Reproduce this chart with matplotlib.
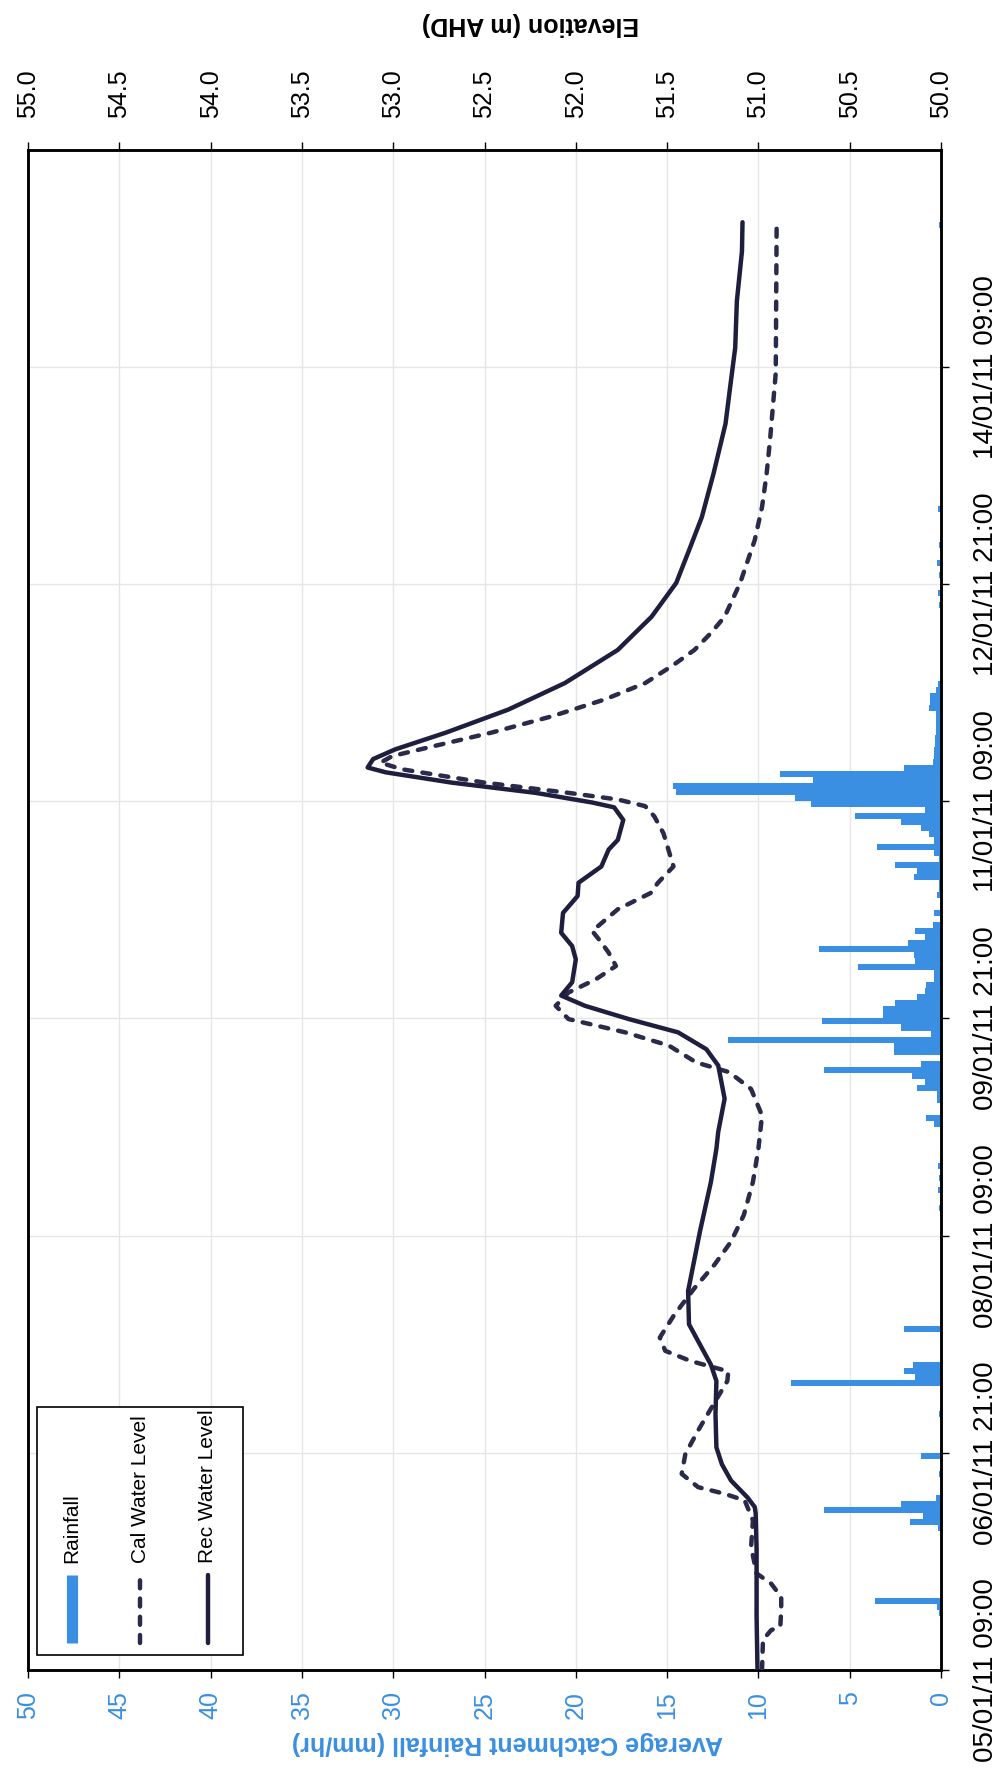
import matplotlib
matplotlib.use("Agg")
import matplotlib.pyplot as plt
from matplotlib.patches import Rectangle
from matplotlib.lines import Line2D

plt.rcParams["font.family"] = ["Liberation Sans", "DejaVu Sans"]

RAIN_BLUE = "#3a8fe2"
LINE_DARK = "#1e1e3e"
CAL_DASH = (0, (1.8, 2.3))

# hourly catchment rainfall (mm/hr), hours after 05/01/11 09:00
rain_hour = [9, 10, 11, 23, 24, 25, 26, 27, 28, 32, 35, 42, 47, 48, 49, 50, 56,
             76, 79, 81, 83, 90, 91, 94, 95, 96, 97, 98, 99, 100, 102, 103, 104,
             105, 106, 107, 108, 109, 110, 111, 112, 113, 114, 115, 116, 117, 118,
             119, 120, 121, 122, 123, 125, 128, 129, 130, 131, 132, 133, 134, 135,
             136, 137, 138, 139, 140, 141, 142, 143, 144, 145, 146, 147, 148, 149,
             150, 151, 152, 153, 154, 155, 156, 157, 158, 159, 160, 161, 162, 163,
             176, 178, 181, 183, 186, 192, 239]
rain_mm = [0.1, 0.22, 3.6, 0.18, 1.7, 1.0, 6.4, 2.2, 0.27, 0.1, 1.1, 0.1, 8.2, 1.4, 2.0, 1.55, 2.0,
           0.1, 0.15, 0.1, 0.15, 0.36, 0.8, 0.2, 0.2, 1.3, 0.9, 1.6, 6.4, 1.1, 2.6, 2.6, 11.65,
           0.55, 2.2, 6.5, 3.2, 3.2, 2.5, 1.3, 0.9, 0.8, 0.36, 0.36, 4.55, 1.45, 1.5,
           6.7, 1.8, 0.9, 1.45, 0.45, 0.36, 0.2, 0.1, 0.1, 1.5, 1.3, 2.5, 0.1, 0.36,
           3.5, 0.36, 0.64, 1.1, 2.2, 4.7, 0.9, 7.1, 8.0, 14.5, 14.7, 7.0, 8.8, 2.0,
           0.45, 0.4, 0.4, 0.33, 0.33, 0.27, 0.27, 0.27, 0.27, 0.64, 0.6, 0.6, 0.3, 0.15,
           0.1, 0.15, 0.1, 0.2, 0.1, 0.15, 0.1]

# recorded water level (m AHD)
rec_hour = [0, 9, 20, 26, 27, 28.6, 31.4, 34.1, 36.9, 42.4, 47.9, 50.6, 54.5, 57.3,
            62.8, 72.7, 80.9, 86.4, 89.2, 94.7, 100.2, 102.9, 105.7, 107.9, 110.1,
            111.8, 114, 117.8, 120, 122.2, 125.5, 128.3, 130.5, 133.2, 136, 137.6,
            140.9, 143, 143.8, 145.4, 147.1, 148.8, 149.6, 151, 152.6, 155.4, 159.2,
            163.6, 169.1, 174.6, 180.2, 185.6, 191.1, 198.3, 206.6, 212.6, 219.2,
            226.9, 235.2, 240]
rec_level = [51.005, 51.01, 51.01, 51.015, 51.02, 51.06, 51.15, 51.20, 51.23, 51.235, 51.23,
             51.26, 51.33, 51.38, 51.385, 51.32, 51.26, 51.23, 51.22, 51.185, 51.22,
             51.285, 51.44, 51.71, 51.95, 52.08, 52.02, 52.00, 52.02, 52.08, 52.07,
             51.99, 51.985, 51.86, 51.82, 51.77, 51.74, 51.79, 51.91, 52.22, 52.68,
             53.04, 53.14, 53.11, 52.99, 52.71, 52.37, 52.06, 51.77, 51.585, 51.45,
             51.38, 51.31, 51.246, 51.18, 51.155, 51.127, 51.118, 51.09, 51.087]

# calibrated model water level (m AHD)
cal_hour = [0, 5, 6.6, 7.2, 10, 12.1, 14.3, 16, 20.4, 24.8, 28.1, 29.2, 30.3, 32.5,
            35.8, 39.7, 44.6, 47.9, 49.5, 51.2, 52.9, 55.1, 58.9, 63.3, 67.2, 71,
            75.4, 80.9, 86.4, 91.9, 96.3, 99.1, 100.7, 103.5, 105.7, 107.9, 110.1,
            112.3, 114.5, 116.7, 118.9, 120.6, 122.5, 126.1, 128.8, 130.5, 133.2,
            138.7, 141.5, 143.2, 144.3, 145.4, 147.1, 149.3, 150.4, 151.5, 153.2,
            155.4, 158.1, 160.9, 163.6, 166.4, 169.1, 171.9, 174.6, 180.2, 187.3,
            192.8, 198.3, 204, 215, 240]
cal_level = [50.98, 50.975, 50.93, 50.88, 50.875, 50.875, 50.93, 51.01, 51.04, 51.03,
             51.075, 51.185, 51.33, 51.42, 51.40, 51.33, 51.235, 51.17, 51.165, 51.37,
             51.51, 51.54, 51.46, 51.35, 51.24, 51.15, 51.08, 51.03, 51.0, 50.98,
             51.04, 51.16, 51.34, 51.49, 51.73, 52.04, 52.11, 52.04, 51.89, 51.78,
             51.82, 51.86, 51.91, 51.77, 51.59, 51.55, 51.465, 51.52, 51.57, 51.62,
             51.77, 52.04, 52.50, 52.95, 53.07, 53.005, 52.77, 52.46, 52.13, 51.84,
             51.62, 51.475, 51.35, 51.26, 51.185, 51.10, 51.02, 50.98, 50.955,
             50.936, 50.905, 50.90]

rain_ticks = [0, 5, 10, 15, 20, 25, 30, 35, 40, 45, 50]
level_ticks = [50.0, 50.5, 51.0, 51.5, 52.0, 52.5, 53.0, 53.5, 54.0, 54.5, 55.0]
date_ticks = [0, 36, 72, 108, 144, 180, 216]
date_labels = ["05/01/11 09:00", "06/01/11 21:00", "08/01/11 09:00", "09/01/11 21:00",
               "11/01/11 09:00", "12/01/11 21:00", "14/01/11 09:00"]

fig = plt.figure(figsize=(10, 17.69), dpi=100)
ax = fig.add_axes([0.028, 0.056, 0.913, 0.8593])

# rainfall on the primary axis, drawn sideways (time runs up the page)
ax.barh([h + 0.5 for h in rain_hour], rain_mm, height=1.0, color=RAIN_BLUE,
        linewidth=0, zorder=2)
ax.set_xlim(50, 0)
ax.set_ylim(0, 252)
ax.set_xticks(rain_ticks)
ax.set_xticklabels([str(v) for v in rain_ticks], rotation=90, color=RAIN_BLUE,
                   fontsize=18)
ax.set_yticks(date_ticks)
ax.set_yticklabels(date_labels, rotation=90, va="center", fontsize=20)
ax.yaxis.tick_right()
ax.tick_params(axis="x", direction="out", length=6, width=1, pad=9)
ax.tick_params(axis="y", direction="out", length=6, width=1, pad=17)
ax.grid(True, color="#e6e6e6", linewidth=1.0, zorder=0)
ax.set_axisbelow(True)
ax.set_xlabel("Average Catchment Rainfall (mm/hr)", rotation=180, color=RAIN_BLUE,
              fontsize=18, fontweight="bold")
ax.xaxis.set_label_coords(0.525, -0.04)
for side in ax.spines.values():
    side.set_linewidth(1.8)

# water levels on the secondary axis
ax2 = ax.twiny()
ax2.plot(rec_level, rec_hour, color=LINE_DARK, linewidth=3.2, solid_capstyle="round",
         solid_joinstyle="round", zorder=4)
ax2.plot(cal_level, cal_hour, color="#2a2a4a", linewidth=3.2, linestyle=CAL_DASH,
         dash_capstyle="round", zorder=3)
ax2.set_xlim(55, 50)
ax2.set_xticks(level_ticks)
ax2.set_xticklabels([f"{v:.1f}" for v in level_ticks], rotation=90, fontsize=18)
ax2.tick_params(axis="x", direction="out", length=6, width=1, pad=17)
ax2.set_xlabel("Elevation (m AHD)", rotation=180, fontsize=18, fontweight="bold")
ax2.xaxis.set_label_coords(0.55, 1.078)
for side in ax2.spines.values():
    side.set_linewidth(1.8)

# legend box, rotated with the rest of the chart
tr = ax2.transAxes
ax2.add_patch(Rectangle((0.0099, 0.0099), 0.2256, 0.163, transform=tr, facecolor="white",
                        edgecolor="black", linewidth=1.2, zorder=6))
ax2.add_line(Line2D([0.048, 0.048], [0.018, 0.0625], transform=tr, color=RAIN_BLUE,
                    linewidth=8, solid_capstyle="butt", zorder=7))
ax2.add_line(Line2D([0.1227, 0.1227], [0.018, 0.0625], transform=tr, color="#2a2a4a",
                    linewidth=3.2, linestyle=CAL_DASH, dash_capstyle="round", zorder=7))
ax2.add_line(Line2D([0.197, 0.197], [0.018, 0.0625], transform=tr, color=LINE_DARK,
                    linewidth=3.2, solid_capstyle="round", zorder=7))
for x, label in [(0.048, "Rainfall"), (0.1227, "Cal Water Level"), (0.197, "Rec Water Level")]:
    ax2.text(x, 0.0705, label, transform=tr, rotation=90, ha="center", va="bottom",
             fontsize=15, zorder=8)

fig.savefig("out.png", dpi=100)
